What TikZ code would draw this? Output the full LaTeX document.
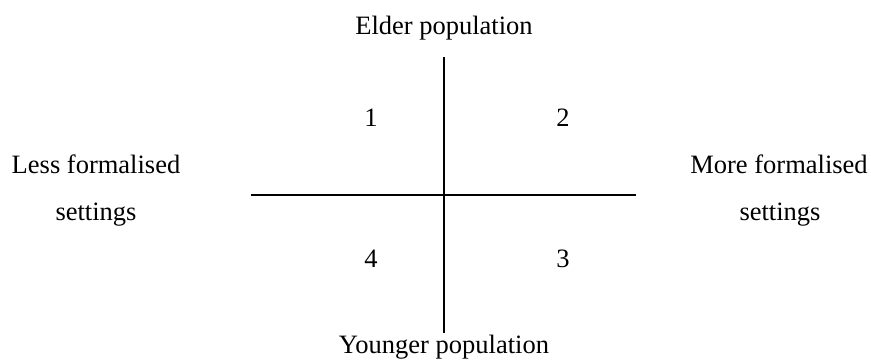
\documentclass[tikz,border=0pt]{standalone}
\usepackage{fontspec}
\setmainfont{Liberation Serif}
\begin{document}
\begin{tikzpicture}[x=1pt,y=-1pt,every node/.style={font=\fontsize{26.5}{32}\selectfont,inner sep=0pt,anchor=base}]
  \useasboundingbox (0,0) rectangle (871,361);
  % axes
  \coordinate (top) at (444,57);
  \coordinate (bottom) at (444,333);
  \coordinate (left) at (251,195);
  \coordinate (right) at (636,195);
  \draw[line width=2.5pt] (top) -- (bottom);
  \draw[line width=2.5pt] (left) -- (right);
  % axis labels
  \node (elder) at (444,35) {Elder population};
  \node (younger) at (444,353) {Younger population};
  \node (less) at (96,173) {Less formalised};
  \node (lessset) at (96,220) {settings};
  \node (more) at (779,173) {More formalised};
  \node (moreset) at (780,220) {settings};
  % quadrants
  \foreach \n/\x/\y in {1/371/127, 2/563/127, 3/563/267, 4/371/267} {
    \node (q\n) at (\x,\y) {\n};
  }
\end{tikzpicture}
\end{document}
